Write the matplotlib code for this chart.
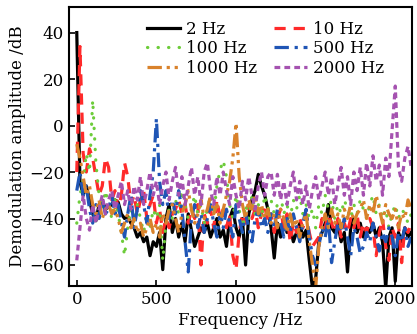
import numpy as np
import matplotlib
matplotlib.use("Agg")
import matplotlib.pyplot as plt

plt.rcParams['font.family'] = ['DejaVu Serif']

freq = np.arange(0, 2101, 20)

amp_2hz = [40, -24, -30, -26, -32, -38, -41, -34, -32, -36, -35, -34, -32, -33, -38, -40, -39, -42, -44, -48,
           -46, -50, -48, -56, -50, -52, -46, -62, -40, -34, -46, -40, -48, -42, -50, -38, -45, -52, -48, -44,
           -46, -42, -48, -44, -40, -48, -45, -52, -40, -36, -44, -48, -40, -60, -38, -32, -28, -21, -26, -30,
           -36, -44, -57, -42, -48, -40, -46, -44, -50, -46, -42, -48, -45, -58, -70, -66, -50, -46, -42, -34,
           -44, -46, -42, -50, -46, -63, -44, -40, -46, -42, -48, -44, -46, -42, -48, -44, -50, -70, -48, -44,
           -67, -46, -50, -44, -48, -46]
amp_10hz = [-20, 34, -12, -20, -10, -14, -22, -30, -26, -14, -18, -32, -28, -36, -30, -16, -22, -34, -30, -38,
            -32, -28, -40, -34, -30, -42, -36, -46, -40, -44, -38, -36, -32, -38, -34, -42, -36, -40, -34, -60,
            -38, -42, -36, -44, -32, -40, -36, -44, -38, -56, -62, -46, -38, -42, -34, -40, -36, -44, -38, -34,
            -42, -38, -46, -40, -36, -44, -38, -50, -42, -46, -40, -44, -38, -46, -52, -50, -48, -40, -44, -38,
            -42, -46, -40, -48, -42, -46, -40, -44, -38, -48, -42, -46, -40, -44, -56, -46, -40, -52, -58, -44,
            -48, -42, -59, -44, -46, -42]
amp_100hz = [-42, -30, -24, -12, -20, 11, -16, -30, -36, -28, -34, -40, -32, -38, -46, -56, -44, -36, -42, -34,
             -40, -46, -38, -44, -36, -40, -34, -58, -42, -36, -40, -32, -38, -28, -34, -40, -36, -30, -38, -34,
             -42, -36, -30, -38, -26, -19, -15, -22, -34, -40, -30, -36, -46, -34, -40, -30, -38, -34, -40, -30,
             -36, -32, -38, -34, -30, -38, -34, -40, -32, -36, -30, -38, -34, -40, -36, -44, -34, -38, -30, -36,
             -32, -40, -34, -38, -32, -36, -40, -34, -38, -32, -36, -40, -34, -30, -38, -34, -40, -36, -44, -38,
             -34, -40, -36, -38, -42, -38]
amp_500hz = [-28, -20, -30, -26, -36, -42, -34, -40, -32, -38, -36, -30, -38, -34, -42, -48, -38, -30, -44, -36,
             -28, -34, -42, -30, -20, 3, -24, -34, -28, -40, -32, -38, -28, -36, -50, -63, -40, -34, -44, -38,
             -46, -40, -34, -42, -48, -38, -44, -36, -42, -48, -34, -40, -46, -38, -44, -50, -40, -36, -44, -40,
             -46, -38, -44, -36, -42, -48, -40, -46, -38, -44, -50, -42, -36, -48, -56, -60, -52, -44, -48, -40,
             -59, -50, -42, -46, -40, -48, -56, -44, -48, -55, -52, -46, -50, -42, -48, -54, -46, -50, -44, -48,
             -56, -46, -50, -44, -52, -48]
amp_1000hz = [-8, -14, -22, -30, -26, -34, -38, -32, -40, -36, -34, -38, -36, -40, -46, -42, -38, -44, -40, -46,
              -42, -48, -44, -40, -46, -42, -48, -38, -42, -36, -34, -40, -46, -38, -34, -28, -36, -42, -38, -32,
              -40, -36, -30, -38, -34, -42, -36, -30, -24, -14, 1, -22, -34, -40, -32, -36, -30, -38, -34, -40,
              -36, -42, -38, -44, -36, -40, -46, -38, -44, -40, -48, -42, -38, -50, -60, -70, -52, -44, -38, -44,
              -36, -42, -38, -44, -36, -40, -34, -42, -38, -36, -32, -40, -34, -38, -30, -36, -42, -34, -38, -40,
              -36, -44, -38, -40, -32, -36]
amp_2000hz = [-58, -44, -30, -40, -45, -34, -42, -36, -30, -38, -32, -28, -36, -30, -24, -34, -28, -36, -26, -32,
              -22, -34, -28, -20, -30, -24, -34, -26, -20, -32, -24, -18, -30, -22, -34, -26, -18, -30, -22, -34,
              -20, -16, -28, -34, -22, -30, -20, -28, -34, -22, -30, -36, -24, -32, -22, -30, -36, -26, -20, -30,
              -22, -20, -30, -21, -32, -24, -34, -26, -20, -32, -24, -34, -26, -36, -28, -22, -32, -26, -20, -30,
              -22, -34, -26, -18, -30, -22, -34, -20, -28, -18, -30, -16, -26, -13, -24, -17, -30, -14, -22, -2,
              17, -18, -24, -14, -9, -18]

labels = ['2 Hz', '10 Hz', '100 Hz', '500 Hz', '1000 Hz', '2000 Hz']
series = [amp_2hz, amp_10hz, amp_100hz, amp_500hz, amp_1000hz, amp_2000hz]
colors = ['#000000', '#ff2a2a', '#6dcc3a', '#1f55b5', '#d9822b', '#a552b0']
styles = ['-', (0, (3.5, 2.5)), (0, (0.1, 3.2)), (0, (4.5, 1.8, 1, 1.8)), (0, (4.5, 1.5, 1, 1.5, 1, 1.5)), (0, (1.8, 1.3))]
caps = ['butt', 'butt', 'round', 'butt', 'butt', 'butt']

fig = plt.figure(figsize=(4.17, 3.34), dpi=100)
ax = fig.add_axes([0.165, 0.144, 0.823, 0.835])

lines = {}
for lab, y, c, ls, cap in zip(labels, series, colors, styles, caps):
    ln, = ax.plot(freq, y, color=c, linestyle=ls, linewidth=2.3, label=lab,
                  dash_capstyle=cap, solid_joinstyle='round')
    lines[lab] = ln

ax.set_xlim(-50, 2105)
ax.set_ylim(-69, 51)
ax.set_xticks([0, 500, 1000, 1500, 2000])
ax.set_yticks([-60, -40, -20, 0, 20, 40])
ax.tick_params(direction='in', length=4, width=1.2, labelsize=12, top=False, right=False)
for s in ax.spines.values():
    s.set_linewidth(1.5)
ax.set_xlabel('Frequency /Hz', fontsize=12, labelpad=3)
ax.set_ylabel('Demodulation amplitude /dB', fontsize=12, labelpad=2)

order = ['2 Hz', '100 Hz', '1000 Hz', '10 Hz', '500 Hz', '2000 Hz']
ax.legend([lines[k] for k in order], order, ncol=2, frameon=False, fontsize=12,
          loc='upper left', bbox_to_anchor=(0.352, 0.938), bbox_transform=fig.transFigure,
          handlelength=2.0, handletextpad=0.35, columnspacing=1.0, labelspacing=0.15, borderpad=0.0,
          borderaxespad=0.0)

fig.savefig('out.png', dpi=100)
